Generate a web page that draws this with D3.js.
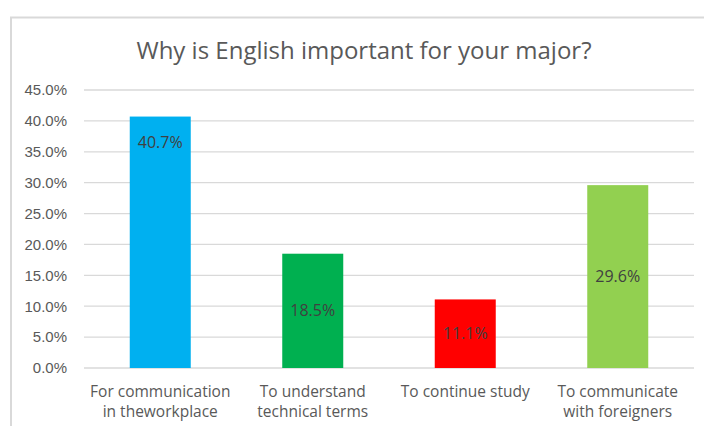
<!DOCTYPE html>
<html>
<head>
<meta charset="utf-8">
<script src="https://cdn.jsdelivr.net/npm/d3@7"></script>
<style>
  body { margin: 0; background: #fff; }
  svg { display: block; font-family: "Open Sans", sans-serif; }
</style>
</head>
<body>
<div id="chart"></div>
<script>
const title = "Why is English important for your major?";
const categories = [
  ["For communication", "in theworkplace"],
  ["To understand", "technical terms"],
  ["To continue study"],
  ["To communicate", "with foreigners"]
];
const values = [0.407, 0.185, 0.111, 0.296];
const colors = ["#00b0f0", "#00b050", "#ff0000", "#92d050"];
const labelPos = ["insideEnd", "center", "center", "center"];
const yTicks = [0, 0.05, 0.1, 0.15, 0.2, 0.25, 0.3, 0.35, 0.4, 0.45];

const width = 704, height = 426;
const margin = { top: 90, right: 10, bottom: 58, left: 84 };

const svg = d3.select("#chart")
  .append("svg")
  .attr("width", width)
  .attr("height", height);

// chart border (runs off the right and bottom edge)
svg.append("rect")
  .attr("x", 11)
  .attr("y", 17.5)
  .attr("width", 720)
  .attr("height", 440)
  .attr("fill", "none")
  .attr("stroke", "#d9d9d9")
  .attr("stroke-width", 2);

svg.append("text")
  .attr("x", 364)
  .attr("y", 59)
  .attr("text-anchor", "middle")
  .attr("fill", "#595959")
  .style("font-size", "24px")
  .text(title);

const x = d3.scaleBand()
  .domain(d3.range(categories.length))
  .range([margin.left, width - margin.right])
  .paddingInner(0.6)
  .paddingOuter(0.3);

const y = d3.scaleLinear()
  .domain([0, 0.45])
  .range([height - margin.bottom, margin.top]);

// gridlines
svg.append("g")
  .selectAll("line")
  .data(yTicks)
  .join("line")
  .attr("x1", margin.left)
  .attr("x2", width - margin.right)
  .attr("y1", (d) => y(d))
  .attr("y2", (d) => y(d))
  .attr("stroke", "#d9d9d9")
  .attr("stroke-width", 1.3);

// y axis labels
const yAxis = svg.append("g")
  .attr("transform", `translate(${margin.left},0)`)
  .call(d3.axisLeft(y).tickValues(yTicks).tickFormat(d3.format(".1%")).tickSize(0).tickPadding(17));
yAxis.select(".domain").remove();
yAxis.selectAll("text")
  .attr("fill", "#595959")
  .style("font-size", "15px")
  .style("font-family", null);

// bars
svg.append("g")
  .selectAll("rect")
  .data(values)
  .join("rect")
  .attr("x", (d, i) => x(i))
  .attr("y", (d) => y(d))
  .attr("width", x.bandwidth())
  .attr("height", (d) => y(0) - y(d))
  .attr("fill", (d, i) => colors[i]);

// value labels
svg.append("g")
  .selectAll("text")
  .data(values)
  .join("text")
  .attr("x", (d, i) => x(i) + x.bandwidth() / 2)
  .attr("y", (d, i) => labelPos[i] === "insideEnd" ? y(d) + 26 : (y(d) + y(0)) / 2)
  .attr("dy", "0.35em")
  .attr("text-anchor", "middle")
  .attr("fill", "#404040")
  .style("font-size", "16px")
  .text((d) => d3.format(".1%")(d));

// category labels
const cat = svg.append("g")
  .selectAll("text")
  .data(categories)
  .join("text")
  .attr("x", (d, i) => x(i) + x.bandwidth() / 2)
  .attr("y", 397)
  .attr("text-anchor", "middle")
  .attr("fill", "#595959")
  .style("font-size", "15.5px");
cat.selectAll("tspan")
  .data((d) => d)
  .join("tspan")
  .attr("x", function () { return this.parentNode.getAttribute("x"); })
  .attr("dy", (d, i) => i === 0 ? 0 : 20)
  .text((d) => d);
</script>
</body>
</html>
